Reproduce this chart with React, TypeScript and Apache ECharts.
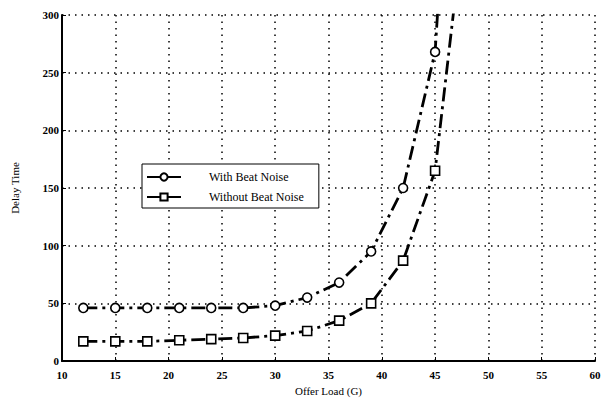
import React, { useEffect, useRef } from "react";
import * as echarts from "echarts";

const xValues = [12, 15, 18, 21, 24, 27, 30, 33, 36, 39, 42, 45];
const withNoise = [46, 46, 46, 46, 46, 46, 48, 55, 68, 95, 150, 268];
const withoutNoise = [17, 17, 17, 18, 19, 20, 22, 26, 35, 50, 87, 165];
// continuation of the curves above the top of the plot (clipped)
const withNoiseTail = [45.5, 340];
const withoutNoiseTail = [47.2, 340];
const seriesNames = ["With Beat Noise", "Without Beat Noise"];

const FONT = "Liberation Serif";

export default function App() {
  const ref = useRef<HTMLDivElement>(null);
  useEffect(() => {
    document.body.style.margin = "0";
    const chart = echarts.init(ref.current!, null, { renderer: "svg" });
    const mk = (ys: number[], tail: number[]) => [
      ...xValues.map((x, i) => [x, ys[i]]),
      { value: tail, symbol: "none" },
    ];
    const lineStyle = { color: "#000", width: 2.8, type: [14, 5, 3, 5] as any };
    chart.setOption({
      animation: false,
      backgroundColor: "#fff",
      grid: { left: 62, right: 18, top: 15, bottom: 38 },
      xAxis: {
        type: "value",
        min: 10,
        max: 60,
        interval: 5,
        name: "Offer Load (G)",
        nameLocation: "middle",
        nameGap: 24,
        nameTextStyle: { fontFamily: FONT, fontSize: 11, color: "#000" },
        axisLine: { show: true, lineStyle: { color: "#000", width: 2 } },
        axisTick: { show: true, inside: true, length: 4, lineStyle: { color: "#000" } },
        axisLabel: { fontFamily: FONT, fontSize: 11, fontWeight: "bold", color: "#000", margin: 8 },
        splitLine: { show: true, lineStyle: { color: "#000", type: [1.5, 5], width: 1.5 } },
      },
      yAxis: {
        type: "value",
        min: 0,
        max: 300,
        interval: 50,
        name: "Delay Time",
        nameLocation: "middle",
        nameGap: 42,
        nameTextStyle: { fontFamily: FONT, fontSize: 11, color: "#000" },
        axisLine: { show: true, lineStyle: { color: "#000", width: 2 } },
        axisTick: { show: true, inside: true, length: 4, lineStyle: { color: "#000" } },
        axisLabel: { fontFamily: FONT, fontSize: 11, fontWeight: "bold", color: "#000", margin: 3 },
        splitLine: { show: true, lineStyle: { color: "#000", type: [1.5, 5], width: 1.5 } },
      },
      legend: {
        orient: "vertical",
        left: 142,
        top: 164,
        padding: [7, 15, 5, 4],
        itemGap: 8,
        itemWidth: 34,
        itemHeight: 9,
        backgroundColor: "#fff",
        borderColor: "#000",
        borderWidth: 1,
        borderRadius: 0,
        lineStyle: { type: "solid", width: 2, color: "#000" },
        textStyle: { fontFamily: FONT, fontSize: 12, color: "#000", padding: [0, 0, 0, 23] },
        data: seriesNames,
      },
      series: [
        {
          name: seriesNames[0],
          type: "line",
          data: mk(withNoise, withNoiseTail),
          symbol: "circle",
          symbolSize: 9,
          showAllSymbol: true,
          lineStyle,
          itemStyle: { color: "#fff", borderColor: "#000", borderWidth: 1.6 },
          z: 3,
        },
        {
          name: seriesNames[1],
          type: "line",
          data: mk(withoutNoise, withoutNoiseTail),
          symbol: "rect",
          symbolSize: 9,
          showAllSymbol: true,
          lineStyle,
          itemStyle: { color: "#fff", borderColor: "#000", borderWidth: 1.6 },
          z: 3,
        },
      ],
    });
    return () => chart.dispose();
  }, []);
  return <div ref={ref} style={{ width: 613, height: 401 }} />;
}
